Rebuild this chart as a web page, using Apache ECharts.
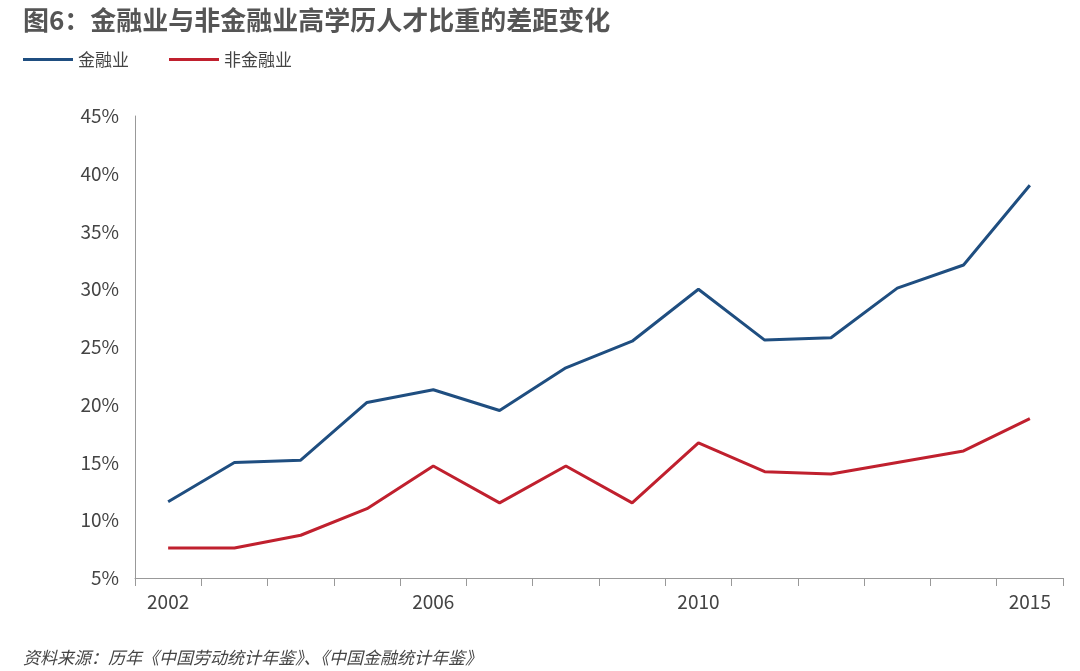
<!DOCTYPE html>
<html><head><meta charset="utf-8">
<script src="https://cdn.jsdelivr.net/npm/echarts@6/dist/echarts.min.js"></script>
<style>body{margin:0}#c{width:1080px;height:671px}</style></head>
<body><div id="c"></div>
<script>
const years=['2002','2003','2004','2005','2006','2007','2008','2009','2010','2011','2012','2013','2014','2015'];
const shownLabels=['2002','2006','2010','2015'];
const finance=[11.6,15.0,15.2,20.2,21.3,19.5,23.2,25.5,30.0,25.6,25.8,30.1,32.1,39.0];
const nonFinance=[7.6,7.6,8.7,11.0,14.7,11.5,14.7,11.5,16.7,14.2,14.0,15.0,16.0,18.8];
const F='"Noto Sans CJK SC","Noto Sans",sans-serif';
const c=echarts.init(document.getElementById('c'));
c.setOption({
  animation:false,
  title:[{text:'图6：金融业与非金融业高学历人才比重的差距变化',left:18,top:2,textStyle:{fontFamily:F,fontSize:26,fontWeight:'bold',color:'#555'}},
    {text:'资料来源：历年《中国劳动统计年鉴》、《中国金融统计年鉴》',left:18,top:644,textStyle:{fontFamily:F,fontSize:17,fontStyle:'italic',fontWeight:'normal',color:'#444'}}],
  legend:{left:18,top:46,itemWidth:50,itemHeight:3,itemGap:40,icon:'rect',textStyle:{fontFamily:F,fontSize:17,color:'#444'},data:['金融业','非金融业']},
  grid:{left:135,right:17,top:116,bottom:93},
  xAxis:{type:'category',data:years,boundaryGap:true,
    axisLine:{lineStyle:{color:'#999'}},axisTick:{show:true,length:8,lineStyle:{color:'#999'}},
    axisLabel:{interval:0,margin:14,fontFamily:F,fontSize:19,color:'#444',formatter:v=>shownLabels.includes(v)?v:''}},
  yAxis:{type:'value',min:5,max:45,interval:5,
    axisLine:{show:true,lineStyle:{color:'#999'}},axisTick:{show:false},splitLine:{show:false},
    axisLabel:{margin:16,fontFamily:F,fontSize:19,color:'#444',formatter:'{value}%'}},
  series:[
    {name:'金融业',type:'line',data:finance,symbol:'none',lineStyle:{width:3,color:'#1f4e80'},itemStyle:{color:'#1f4e80'}},
    {name:'非金融业',type:'line',data:nonFinance,symbol:'none',lineStyle:{width:3,color:'#c0202e'},itemStyle:{color:'#c0202e'}}
  ]
});
</script></body></html>
